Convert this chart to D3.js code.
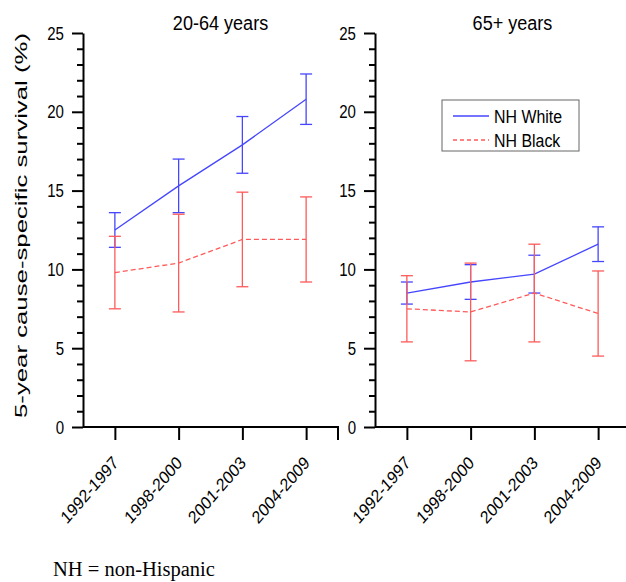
<!DOCTYPE html>
<html>
<head>
<meta charset="utf-8">
<script src="https://cdn.jsdelivr.net/npm/d3@7"></script>
<style>
  body { margin: 0; background: #fff; }
  svg { display: block; }
</style>
</head>
<body>
<div id="chart"></div>
<script>
const periods = ['1992-1997', '1998-2000', '2001-2003', '2004-2009'];
const panelTitles = ['20-64 years', '65+ years'];
const seriesNames = ['NH White', 'NH Black'];
const yTicks = [0, 5, 10, 15, 20, 25];

// 20-64 years
const white2064 = [12.5, 15.3, 17.9, 20.8];
const white2064Lo = [11.4, 13.6, 16.1, 19.2];
const white2064Hi = [13.6, 17.0, 19.7, 22.4];
const black2064 = [9.8, 10.4, 11.9, 11.9];
const black2064Lo = [7.5, 7.3, 8.9, 9.2];
const black2064Hi = [12.1, 13.5, 14.9, 14.6];

// 65+ years
const white65 = [8.5, 9.2, 9.7, 11.6];
const white65Lo = [7.8, 8.1, 8.5, 10.5];
const white65Hi = [9.2, 10.3, 10.9, 12.7];
const black65 = [7.5, 7.3, 8.5, 7.2];
const black65Lo = [5.4, 4.2, 5.4, 4.5];
const black65Hi = [9.6, 10.4, 11.6, 9.9];

const width = 626, height = 582;
const sx = 0.86; // text in the original is squeezed horizontally
const blue = '#4646ff', red = '#ff5a5a';

const svg = d3.select('#chart').append('svg')
  .attr('width', width)
  .attr('height', height)
  .style('font-family', 'Arial, "Liberation Sans", sans-serif');

const y = d3.scaleLinear().domain([0, 25]).range([427, 33]);

const panels = [
  { title: panelTitles[0], left: 83, right: 338, white: [white2064, white2064Lo, white2064Hi], black: [black2064, black2064Lo, black2064Hi] },
  { title: panelTitles[1], left: 375, right: 630, white: [white65, white65Lo, white65Hi], black: [black65, black65Lo, black65Hi] }
];

panels.forEach((p, pi) => {
  const x = d3.scalePoint().domain(periods).range([p.left, p.right]).padding(0.5);
  const g = svg.append('g');

  // minor y ticks
  g.append('g')
    .attr('transform', `translate(${p.left},0)`)
    .call(d3.axisLeft(y).tickValues(y.ticks(25).filter(d => !yTicks.includes(d))).tickSize(6).tickFormat(''))
    .call(a => a.select('.domain').remove())
    .call(a => a.selectAll('line').attr('stroke', '#000').attr('stroke-width', 2));

  // major y ticks
  const yAxis = g.append('g')
    .attr('transform', `translate(${p.left},0)`)
    .call(d3.axisLeft(y).tickValues(yTicks).tickSize(11).tickSizeOuter(0));
  yAxis.select('.domain').attr('stroke-width', 2);
  yAxis.selectAll('line').attr('stroke-width', 2);
  yAxis.selectAll('text')
    .attr('x', null)
    .attr('dy', '0.35em')
    .attr('transform', `translate(-19,0) scale(${sx},1)`)
    .attr('fill', '#000')
    .style('font-size', '17.5px');

  // x axis
  const xAxis = g.append('g')
    .attr('transform', 'translate(0,427)')
    .call(d3.axisBottom(x).tickSize(13).tickSizeOuter(0));
  xAxis.select('.domain')
    .attr('d', `M${p.left},0H${x.range()[1]}V13`)
    .attr('stroke-width', 2);
  xAxis.selectAll('line').attr('stroke-width', 2);
  xAxis.selectAll('text')
    .attr('y', null)
    .attr('dy', null)
    .attr('text-anchor', 'end')
    .attr('transform', `translate(4,37) scale(${sx},1) rotate(-45)`)
    .attr('fill', '#000')
    .style('font-size', '18px');

  // panel title
  g.append('text')
    .attr('transform', `translate(${(p.left + p.right) / 2 + 10},30) scale(${sx},1)`)
    .attr('text-anchor', 'middle')
    .style('font-size', '21px')
    .text(p.title);

  const line = d3.line()
    .x((d, i) => x(periods[i]))
    .y(d => y(d));

  [[p.white, blue, null], [p.black, red, '5,3']].forEach(([s, color, dash]) => {
    const [mid, lo, hi] = s;
    // error bars
    const bars = g.append('g').attr('stroke', color).attr('stroke-width', 1.3);
    periods.forEach((per, i) => {
      bars.append('line').attr('x1', x(per)).attr('x2', x(per)).attr('y1', y(lo[i])).attr('y2', y(hi[i]));
      bars.append('line').attr('x1', x(per) - 6).attr('x2', x(per) + 6).attr('y1', y(lo[i])).attr('y2', y(lo[i]));
      bars.append('line').attr('x1', x(per) - 6).attr('x2', x(per) + 6).attr('y1', y(hi[i])).attr('y2', y(hi[i]));
    });
    g.append('path')
      .datum(mid)
      .attr('fill', 'none')
      .attr('stroke', color)
      .attr('stroke-width', 1.3)
      .attr('stroke-dasharray', dash)
      .attr('d', line);
  });

  // legend in second panel
  if (pi === 1) {
    const lg = g.append('g');
    lg.append('rect')
      .attr('x', 442).attr('y', 100).attr('width', 137).attr('height', 51)
      .attr('fill', '#fff').attr('stroke', '#666').attr('stroke-width', 1);
    seriesNames.forEach((name, i) => {
      const ly = 116 + i * 24;
      lg.append('line')
        .attr('x1', 453).attr('x2', 489).attr('y1', ly).attr('y2', ly)
        .attr('stroke', i === 0 ? blue : red)
        .attr('stroke-width', 1.3)
        .attr('stroke-dasharray', i === 0 ? null : '4,3');
      lg.append('text')
        .attr('transform', `translate(494,${ly}) scale(${sx},1)`)
        .attr('dy', '0.36em')
        .style('font-size', '18.5px')
        .text(name);
    });
  }
});

// y axis title
svg.append('text')
  .attr('transform', `translate(27,225.5) scale(${sx},1) rotate(-90)`)
  .attr('text-anchor', 'middle')
  .attr('textLength', 385)
  .attr('lengthAdjust', 'spacingAndGlyphs')
  .style('font-size', '19px')
  .text('5-year cause-specific survival (%)');

// footnote
svg.append('text')
  .attr('x', 53)
  .attr('y', 576)
  .style('font-family', '"Liberation Serif", "Times New Roman", serif')
  .style('font-size', '20.5px')
  .text('NH = non-Hispanic');
</script>
</body>
</html>
